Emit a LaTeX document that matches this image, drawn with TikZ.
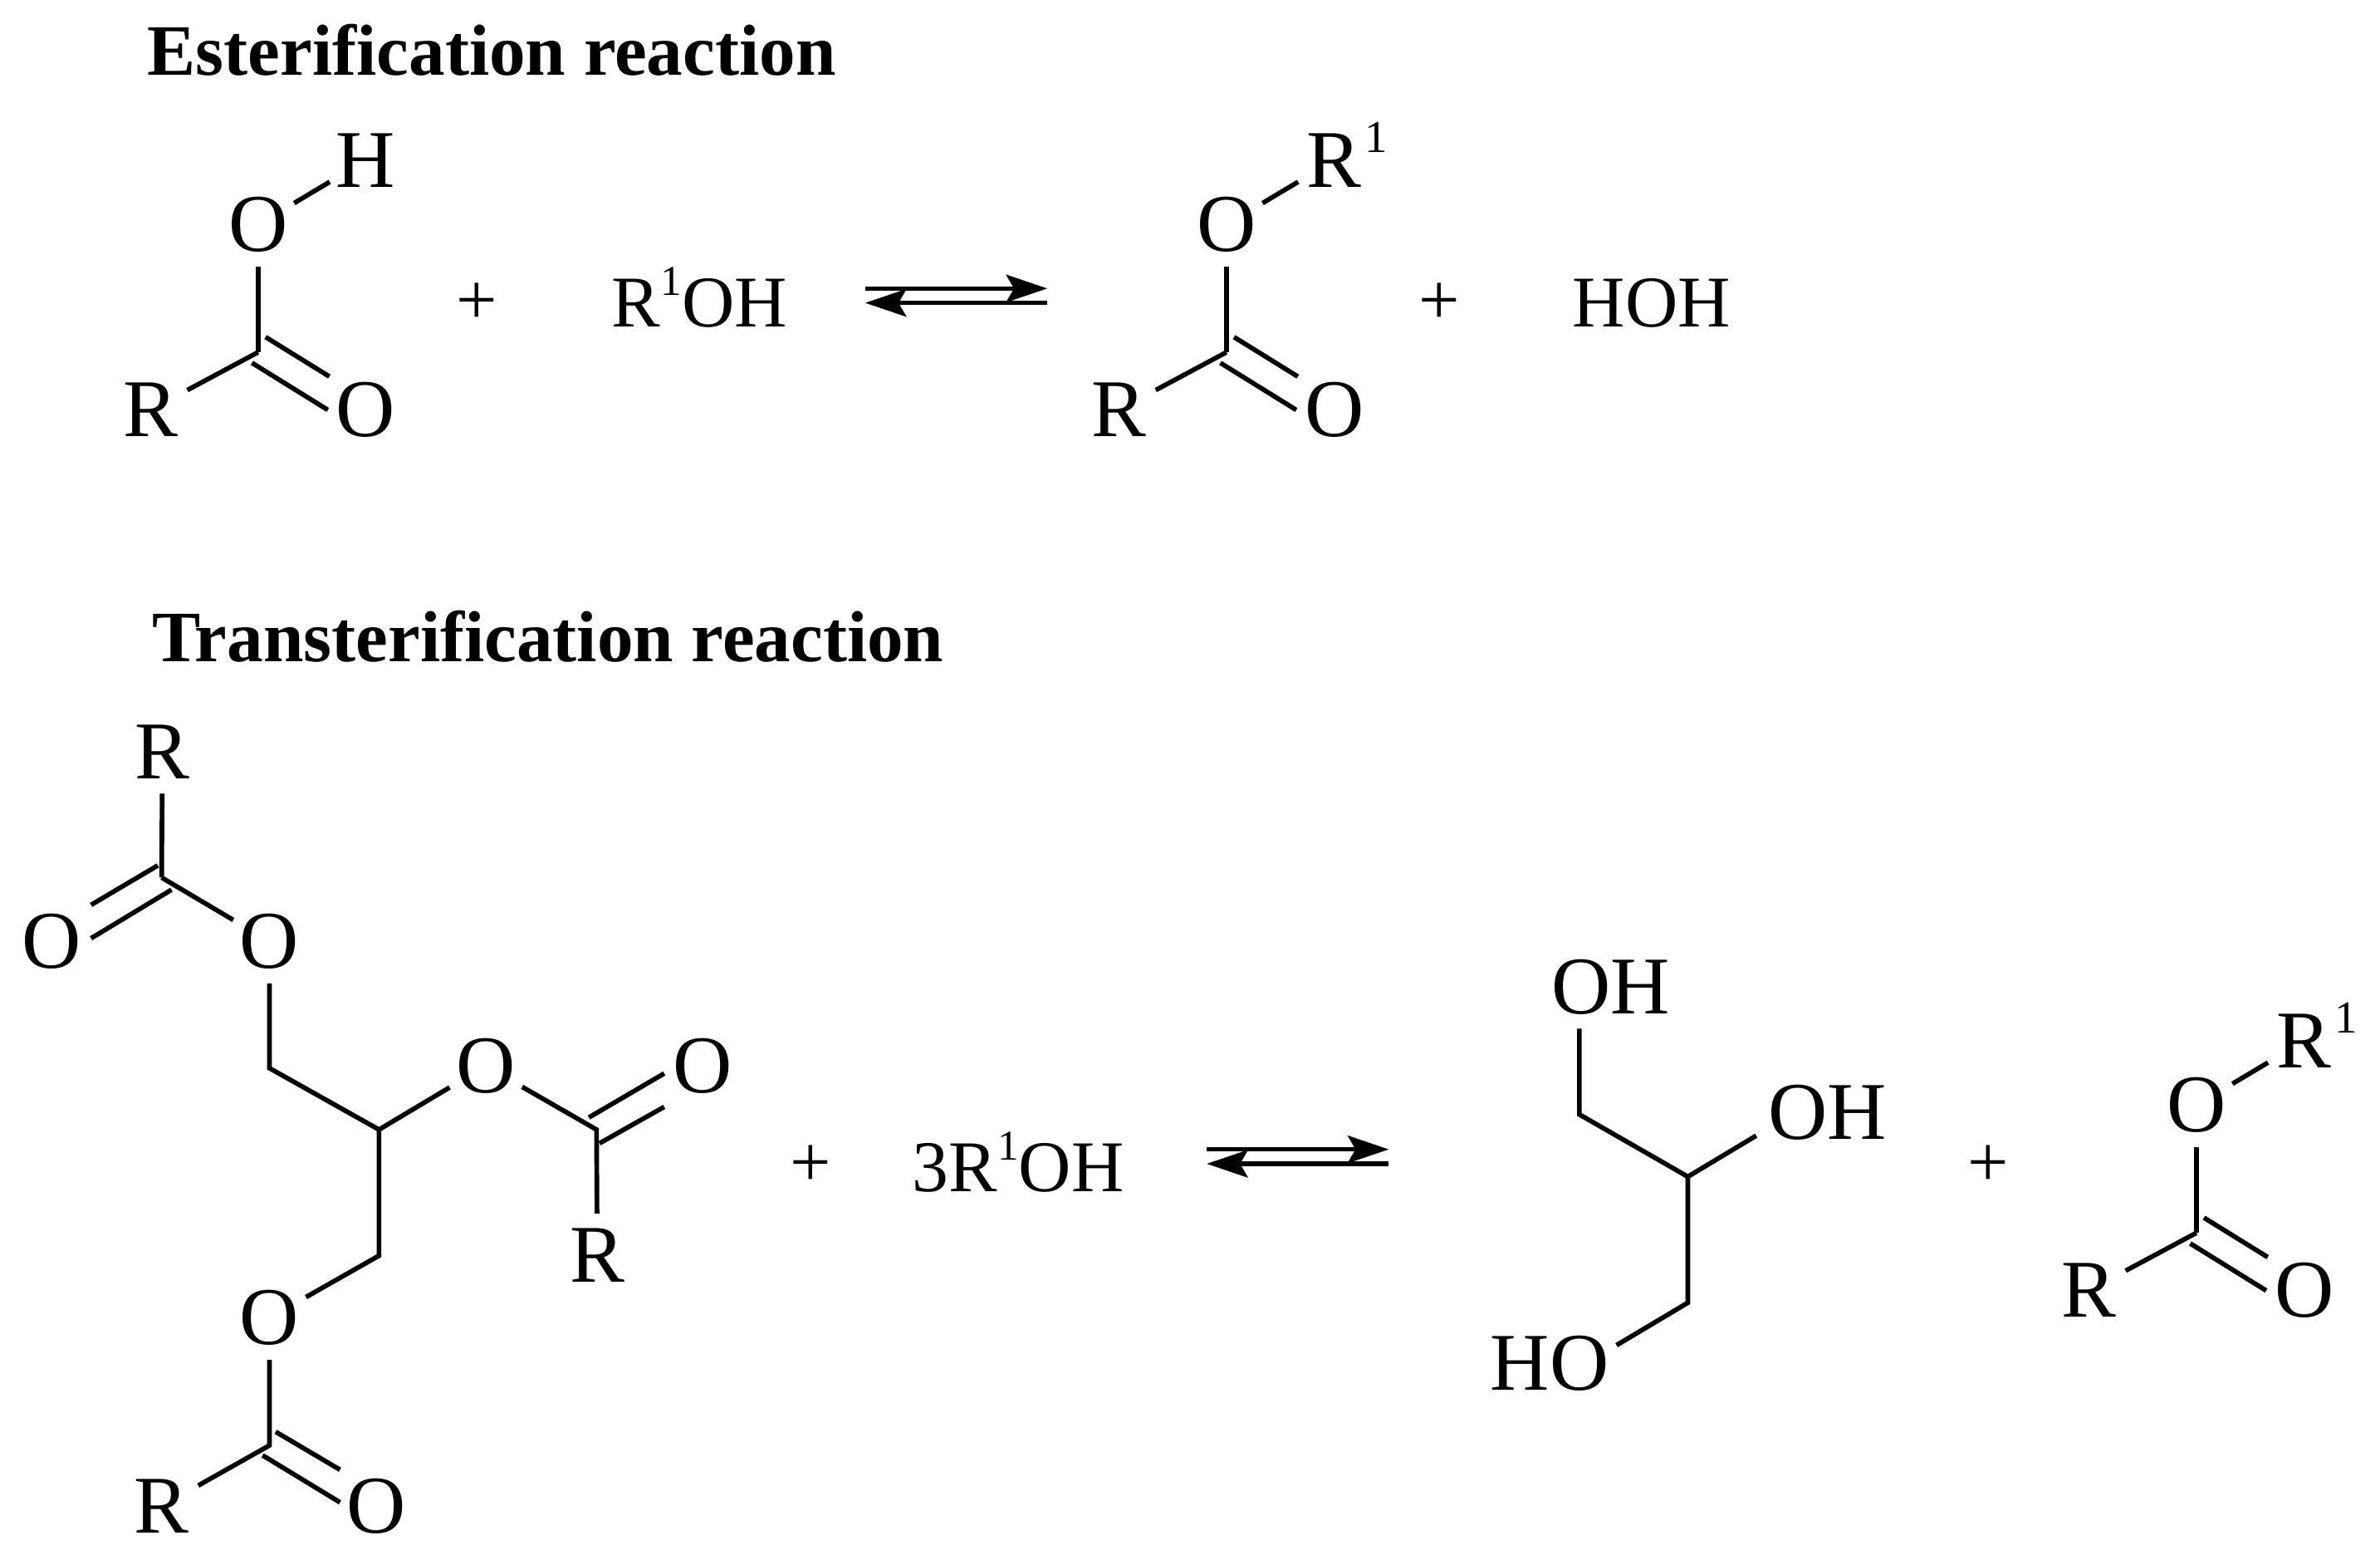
\documentclass[tikz,border=0pt]{standalone}
\usepackage{fontspec}
\setmainfont{Liberation Serif}
\usetikzlibrary{arrows.meta}
\newcommand{\atomsize}{\fontsize{54}{56}\selectfont}
\newcommand{\chemsize}{\fontsize{48}{50}\selectfont}
\newcommand{\headsize}{\fontsize{47.7}{50}\selectfont\bfseries}
\newcommand{\supa}{\raisebox{23pt}{\fontsize{30}{30}\selectfont 1}}
\newcommand{\supb}{\raisebox{21pt}{\fontsize{28}{28}\selectfont 1}}
\tikzset{
  atom/.style={circle,inner sep=0pt,minimum size=55pt,font=\atomsize},
  atomtext/.style={inner sep=0pt,font=\atomsize},
  plainlabel/.style={inner sep=0pt,font=\chemsize},
  heading/.style={inner sep=0pt,anchor=base west,font=\headsize},
  bond/.style={line width=3.1pt,line cap=butt,line join=miter},
  eqarrow/.style={line width=3pt,-{Stealth[length=27pt,width=18pt,inset=5pt]}},
  pluslabel/.style={inner sep=0pt,font=\fontsize{48}{50}\selectfont}
}
\newcommand{\esterunit}[4]{%
  \begin{scope}[shift={(#2,#3)},name prefix=#1-]
    \node[atom] (top) at (241,105.6) {#4};
    \node[atom] (ox) at (170,148) {O};
    \coordinate (c) at (170,232);
    \node[atom] (r) at (99,270) {R};
    \node[atom] (dox) at (241,270) {O};
    \coordinate (d1a) at (166,239);
    \coordinate (d1b) at (216,270);
    \coordinate (d2a) at (175,222);
    \coordinate (d2b) at (217,248);
    \draw[bond] (ox) -- (top);
    \draw[bond] (c) -- (ox);
    \draw[bond] (c) -- (r);
    \draw[bond] (d1a) -- (d1b);
    \draw[bond] (d2a) -- (d2b);
  \end{scope}}
\newcommand{\equil}[3]{%
  \begin{scope}[shift={(#2,#3)},name prefix=#1-]
    \coordinate (a) at (0,0);
    \coordinate (b) at (120,0);
    \coordinate (cc) at (0,9.5);
    \coordinate (d) at (120,9.5);
    \draw[eqarrow] (a) -- (b);
    \draw[eqarrow] (d) -- (cc);
  \end{scope}}
\begin{document}
\begin{tikzpicture}[x=1pt,y=-1pt]
\useasboundingbox (0,0) rectangle (1568,1027.4);
\node[heading] (h1) at (97,49.5) {Esterification reaction};
\node[heading] (h2) at (100,436) {Transterification reaction};

\esterunit{acid}{0}{0}{H}
\node[pluslabel] (p1) at (314,200) {+};
\node[plainlabel,anchor=base west] (alc1) at (403,215.5) {R\supb OH};
\equil{eqa}{570}{190}
\esterunit{est1}{638}{0}{R\rlap{\smash{\kern2pt\supa}}}
\node[pluslabel] (p2) at (948,200) {+};
\node[plainlabel,anchor=base west] (hoh) at (1036,215.5) {HOH};

% triglyceride
\node[atom] (tR1) at (107,495) {R};
\coordinate (tC1) at (106.5,578);
\node[atom] (tOd1) at (34,620) {O};
\node[atom] (tO1) at (177.5,620) {O};
\coordinate (tCH2a) at (177.5,703.5);
\coordinate (tCH) at (249.7,744);
\node[atom] (tO2) at (320,702) {O};
\coordinate (tC2) at (393,744);
\node[atom] (tOd2) at (463,702) {O};
\node[atom] (tR2) at (393.5,827) {R};
\coordinate (tCH2b) at (249.7,827);
\node[atom] (tO3) at (177.5,868) {O};
\coordinate (tC3) at (177.5,952);
\node[atom] (tR3) at (106.5,992) {R};
\node[atom] (tOd3) at (248,992) {O};
\draw[bond] (tR1) -- (tC1);
\draw[bond] (tC1) -- (tO1);
\draw[bond] (tO1) -- (tCH2a) -- (tCH) -- (tO2);
\draw[bond] (tO2) -- (tC2) -- (tR2);
\draw[bond] (tCH) -- (tCH2b) -- (tO3);
\draw[bond] (tO3) -- (tC3) -- (tR3);
\coordinate (k1) at (60,596); \coordinate (k2) at (104,570);
\coordinate (k3) at (60,618); \coordinate (k4) at (113,586);
\draw[bond] (k1) -- (k2);
\draw[bond] (k3) -- (k4);
\coordinate (m1) at (388,736); \coordinate (m2) at (437.6,707);
\coordinate (m3) at (395,753); \coordinate (m4) at (437.6,729);
\draw[bond] (m1) -- (m2);
\draw[bond] (m3) -- (m4);
\coordinate (n1) at (173,958.5); \coordinate (n2) at (224,989.5);
\coordinate (n3) at (181.6,943); \coordinate (n4) at (224,968);
\draw[bond] (n1) -- (n2);
\draw[bond] (n3) -- (n4);

\node[pluslabel] (p3) at (534,768) {+};
\node[plainlabel,anchor=base west] (alc2) at (601,785) {3R\supb OH};
\equil{eqb}{795}{757}

% glycerol
\node[atomtext] (gOH1) at (1061,650) {OH};
\node[atomtext] (gOH2) at (1204,733) {OH};
\node[atomtext] (gHO) at (1021,898) {HO};
\coordinate (g1) at (1040.5,677.5);
\coordinate (g2) at (1040.5,734);
\coordinate (g3) at (1112,775);
\coordinate (g4) at (1157,748);
\coordinate (g5) at (1112,858);
\coordinate (g6) at (1065,886);
\draw[bond] (g1) -- (g2) -- (g3) -- (g5) -- (g6);
\draw[bond] (g3) -- (g4);

\node[pluslabel] (p4) at (1310,768) {+};
\esterunit{est2}{1277}{580}{R\rlap{\smash{\kern2pt\supa}}}
\end{tikzpicture}
\end{document}
